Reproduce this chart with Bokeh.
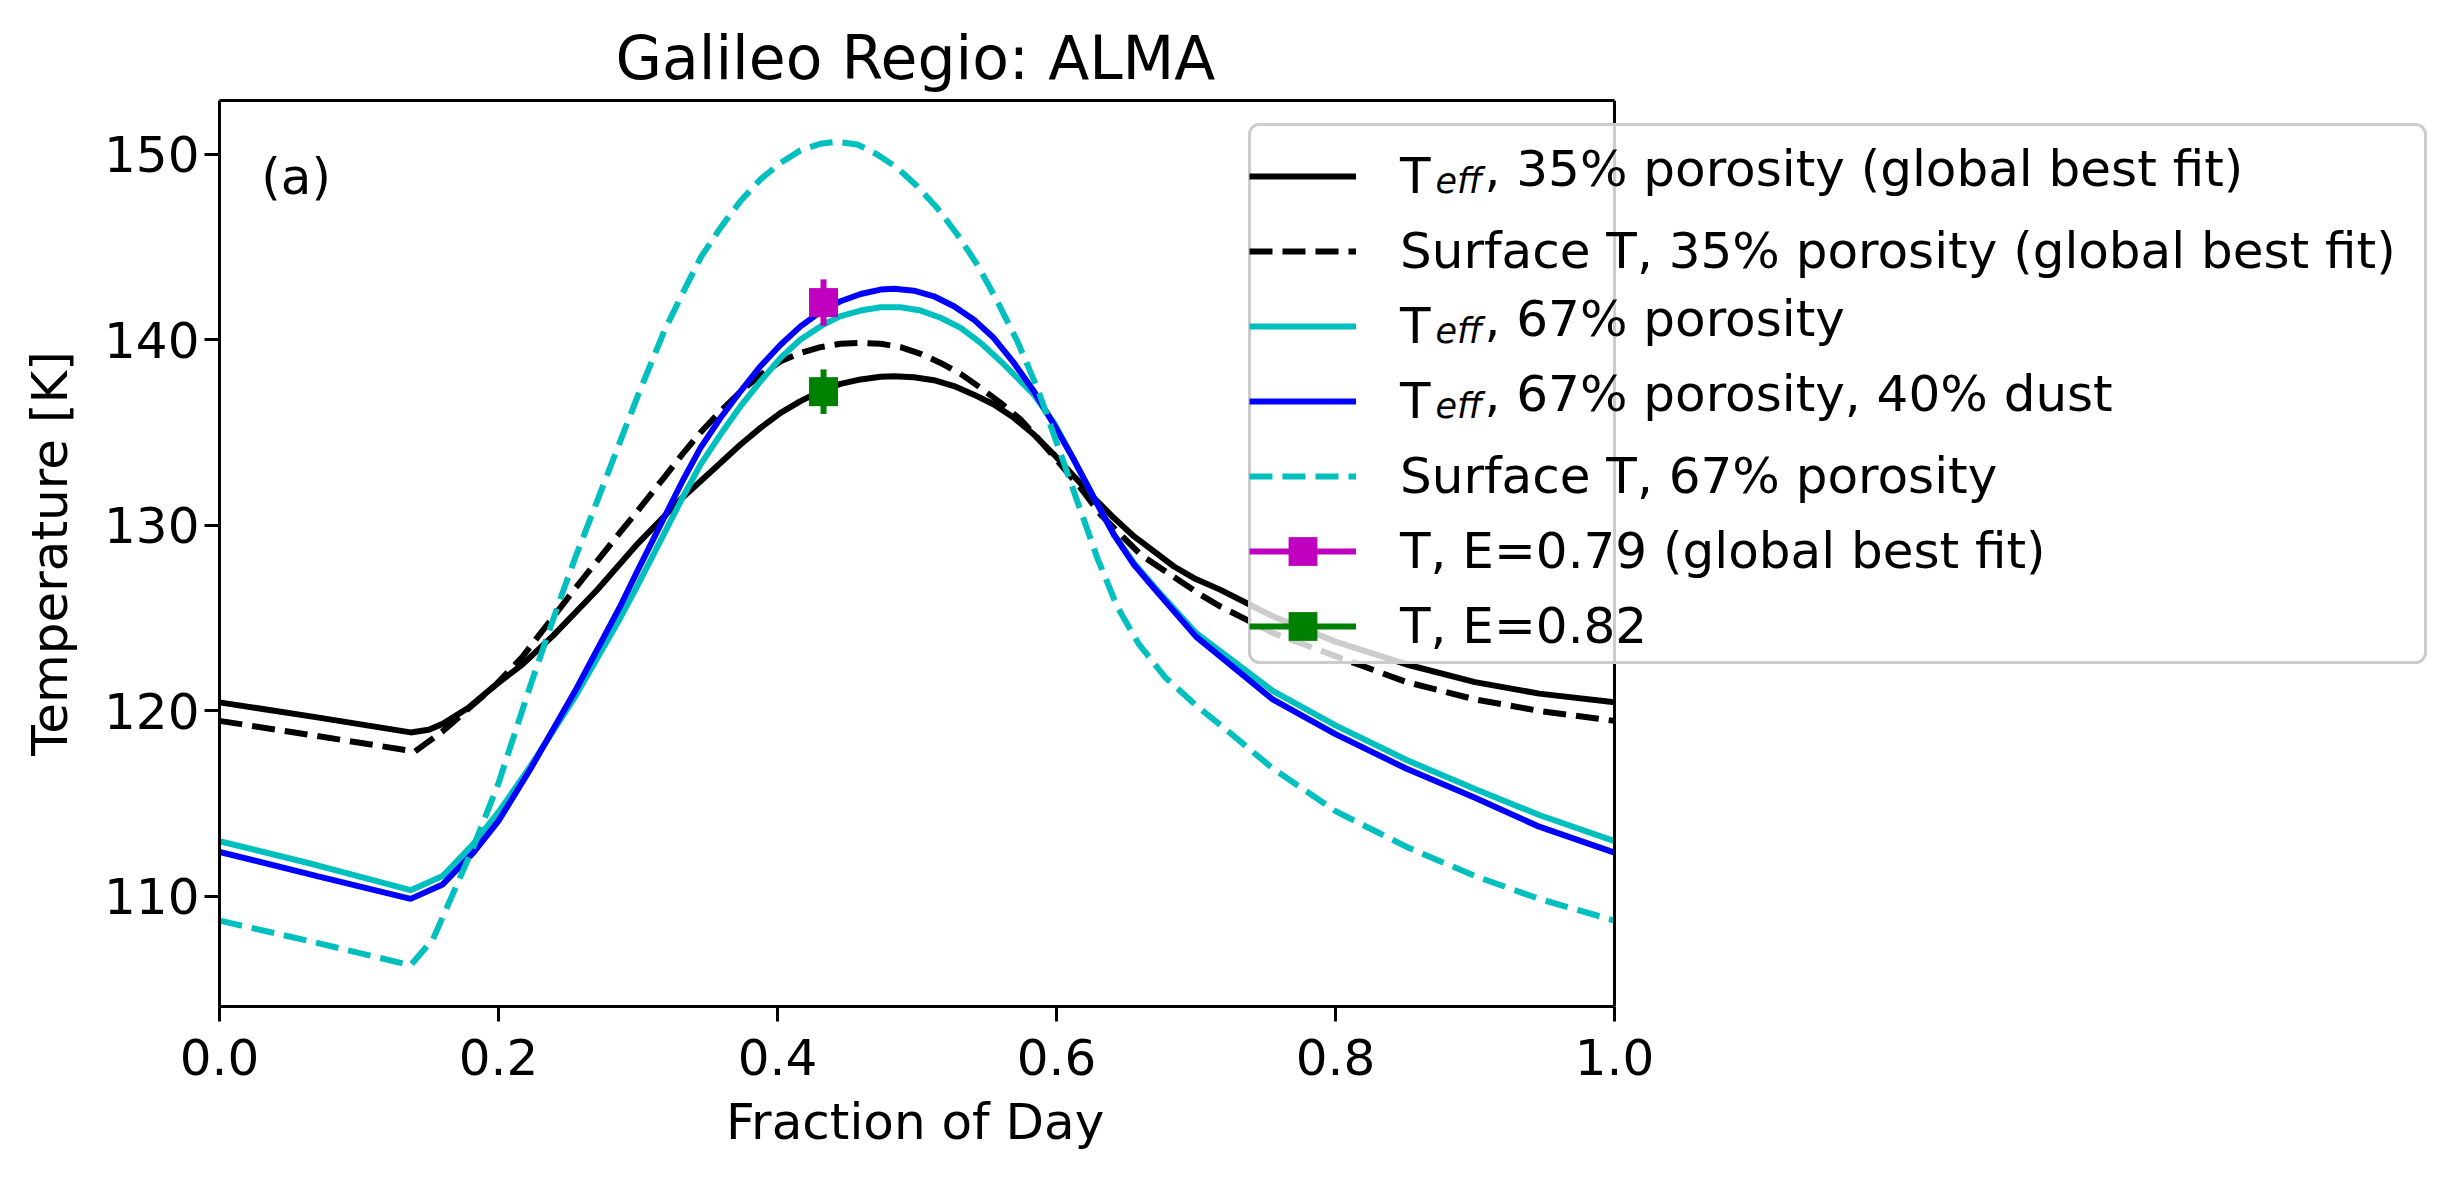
from bokeh.plotting import figure
from bokeh.models import (Range1d, FixedTicker, Legend, LegendItem, Label, ColumnDataSource,
                          PrintfTickFormatter, LinearAxis, Span, Title, BoxAnnotation)
from bokeh.embed import file_html
from bokeh.resources import INLINE

# ---------------- data ----------------
title_text = "Galileo Regio: ALMA"
x_label = "Fraction of Day"
y_label = "Temperature [K]"
panel_tag = "(a)"

x_ticks = [0.0, 0.2, 0.4, 0.6, 0.8, 1.0]
y_ticks = [110, 120, 130, 140, 150]
x_min, x_max = 0.0, 1.0

# T_eff, 35% porosity (global best fit)  -- black solid
x_teff35 = [0.0, 0.07, 0.137, 0.15, 0.16, 0.179, 0.198, 0.217, 0.239, 0.271, 0.3, 0.332,
            0.3448, 0.3591, 0.3735, 0.3878, 0.4022, 0.4165, 0.433, 0.4452, 0.4596, 0.4739, 0.4835,
            0.4978, 0.5121, 0.5265, 0.5408, 0.5551, 0.5695, 0.5838, 0.5982, 0.6125, 0.6269, 0.6412,
            0.6556, 0.6699, 0.6842, 0.6986, 0.7176, 0.755, 0.8, 0.851, 0.9, 0.946, 1.0]
t_teff35 = [120.46, 119.65, 118.84, 118.98, 119.3, 120.2, 121.4, 122.49, 124.04, 126.54, 129.03, 131.5,
            132.37, 133.36, 134.35, 135.25, 136.06, 136.69, 137.31, 137.62, 137.86, 138.0, 138.03,
            137.98, 137.82, 137.5, 137.04, 136.51, 135.79, 134.89, 133.81, 132.64, 131.47, 130.39,
            129.4, 128.59, 127.78, 127.15, 126.52, 125.1, 123.73, 122.5, 121.55, 120.93, 120.46]

# Surface T, 35% porosity (global best fit)  -- black dashed
x_surf35 = [0.0, 0.07, 0.14, 0.16, 0.179, 0.198, 0.217, 0.236, 0.255, 0.271, 0.287, 0.3, 0.319, 0.332,
            0.3448, 0.3591, 0.3735, 0.3878, 0.4022, 0.4165, 0.4308, 0.4452, 0.4596, 0.4739, 0.4882,
            0.5026, 0.5169, 0.5313, 0.5456, 0.5599, 0.5743, 0.5886, 0.603, 0.6173, 0.6317, 0.646,
            0.6604, 0.6747, 0.689, 0.7034, 0.7176, 0.755, 0.8, 0.851, 0.9, 0.946, 1.0]
t_surf35 = [119.46, 118.65, 117.81, 118.9, 120.15, 121.4, 122.9, 124.75, 126.6, 128.1, 129.6, 130.8,
            132.6, 133.85, 135.0, 136.15, 137.2, 138.1, 138.84, 139.29, 139.6, 139.78, 139.83,
            139.78, 139.6, 139.24, 138.75, 138.16, 137.4, 136.6, 135.7, 134.53, 133.27, 132.01,
            130.57, 129.49, 128.41, 127.69, 126.97, 126.25, 125.62, 124.2, 122.95, 121.55, 120.62,
            120.0, 119.46]

# T_eff, 67% porosity  -- cyan solid
x_teff67 = [0.0, 0.07, 0.137, 0.16, 0.182, 0.2, 0.223, 0.255, 0.287, 0.3, 0.332,
            0.3448, 0.3591, 0.3735, 0.3878, 0.4022, 0.4165, 0.433, 0.4452, 0.4596, 0.4739, 0.4882,
            0.5026, 0.5169, 0.5313, 0.5456, 0.5599, 0.5743, 0.5838, 0.5982, 0.6125, 0.6269, 0.6412,
            0.6556, 0.6699, 0.7, 0.755, 0.8, 0.851, 0.9, 0.946, 1.0]
t_teff67 = [112.98, 111.68, 110.34, 111.1, 112.83, 114.54, 117.03, 120.77, 124.97, 126.8, 131.5,
            133.27, 134.89, 136.42, 137.76, 139.02, 140.01, 140.82, 141.27, 141.57, 141.75, 141.75,
            141.57, 141.18, 140.64, 139.83, 138.84, 137.76, 137.04, 135.51, 133.53, 131.47, 129.49,
            127.96, 126.7, 124.2, 121.08, 119.22, 117.35, 115.79, 114.39, 112.98]

# T_eff, 67% porosity, 40% dust  -- blue solid
x_dust = [0.0, 0.07, 0.137, 0.16, 0.182, 0.2, 0.223, 0.255, 0.287, 0.3, 0.332,
          0.3448, 0.3591, 0.3735, 0.3878, 0.4022, 0.4165, 0.433, 0.4452, 0.4596, 0.4739, 0.4835,
          0.4978, 0.5121, 0.5265, 0.5408, 0.5551, 0.5695, 0.5838, 0.5982, 0.6125, 0.6269, 0.6412,
          0.6556, 0.6699, 0.7, 0.755, 0.8, 0.851, 0.9, 0.946, 1.0]
t_dust = [112.4, 111.1, 109.87, 110.65, 112.36, 114.07, 116.88, 121.08, 125.6, 127.6, 132.4,
          134.17, 135.78, 137.22, 138.57, 139.73, 140.72, 141.62, 142.07, 142.46, 142.7, 142.75,
          142.64, 142.34, 141.8, 141.08, 140.09, 138.75, 137.22, 135.42, 133.53, 131.47, 129.49,
          127.87, 126.61, 124.0, 120.62, 118.75, 116.88, 115.32, 113.76, 112.36]

# Surface T, 67% porosity  -- cyan dashed
x_surf67 = [0.0, 0.07, 0.137, 0.153, 0.182, 0.2, 0.223, 0.243, 0.255, 0.271, 0.287, 0.3, 0.319, 0.332,
            0.3448, 0.3591, 0.3735, 0.3878, 0.4022, 0.4165, 0.4308, 0.4428, 0.4572, 0.4715, 0.4858,
            0.5002, 0.5145, 0.5289, 0.5432, 0.5575, 0.5719, 0.5862, 0.6006, 0.6149, 0.6292, 0.6436,
            0.659, 0.678, 0.7, 0.723, 0.755, 0.8, 0.851, 0.9, 0.946, 1.0]
t_surf67 = [108.7, 107.5, 106.29, 107.69, 112.67, 116.1, 121.4, 125.76, 128.25, 131.36, 134.48, 137.0,
            140.5, 142.5, 144.41, 146.03, 147.47, 148.64, 149.53, 150.2, 150.56, 150.67, 150.52,
            149.98, 149.26, 148.27, 147.1, 145.67, 144.05, 142.08, 139.92, 137.41, 134.35, 131.3,
            128.25, 125.6, 123.6, 121.8, 120.3, 118.9, 116.9, 114.6, 112.67, 111.1, 109.87, 108.7]

# observed brightness temperatures
x_obs = [0.433]
t_e079 = [142.0]
err_e079 = [1.25]
t_e082 = [137.2]
err_e082 = [1.2]

labels = [
    "Teff, 35% porosity (global best fit)",
    "Surface T, 35% porosity (global best fit)",
    "Teff, 67% porosity",
    "Teff, 67% porosity, 40% dust",
    "Surface T, 67% porosity",
    "T, E=0.79 (global best fit)",
    "T, E=0.82",
]

# ---------------- styling ----------------
FONT = "DejaVu Sans"
BLACK = "#000000"
CYAN = "#00bfbf"
BLUE = "#0000ff"
MAGENTA = "#bf00bf"
GREEN = "#008000"
LW = 6
DASH = "23 10"

all_t = t_teff35 + t_surf35 + t_teff67 + t_dust + t_surf67
t_min, t_max = min(all_t), max(all_t)
pad = 0.05 * (t_max - t_min)

LEFT, TOP, BOTTOM = 219, 100, 156
TOTAL_W = 2440
FW_DATA, FH = 1395, 906          # pixel size of the axes box (x from 0 to 1)
FW = TOTAL_W - LEFT              # frame is wider so that the legend can overhang the axes box
x_end = x_min + (x_max - x_min) * FW / FW_DATA

p = figure(frame_width=FW, frame_height=FH,
           min_border_left=LEFT, min_border_right=0, min_border_top=TOP, min_border_bottom=BOTTOM,
           x_range=Range1d(x_min, x_end), y_range=Range1d(t_min - pad, t_max + pad),
           output_backend="svg", toolbar_location=None, title=title_text)

p.background_fill_color = "white"
p.border_fill_color = "white"
p.outline_line_color = None
p.xgrid.visible = False
p.ygrid.visible = False

p.title.text_font = FONT
p.title.text_font_size = "60px"
p.title.text_font_style = "normal"
p.title.text_color = BLACK
p.title.align = "left"
p.title.offset = 396
p.title.standoff = 16

for ax in (p.xaxis[0], p.yaxis[0]):
    ax.axis_line_width = 3
    ax.axis_line_color = BLACK
    ax.major_tick_line_width = 3
    ax.major_tick_line_color = BLACK
    ax.major_tick_out = 15
    ax.major_tick_in = 0
    ax.minor_tick_line_color = None
    ax.major_label_text_font = FONT
    ax.major_label_text_font_size = "50px"
    ax.major_label_text_color = BLACK
    ax.axis_label_text_font = FONT
    ax.axis_label_text_font_size = "50px"
    ax.axis_label_text_font_style = "normal"
    ax.axis_label_text_color = BLACK

p.xaxis.bounds = (x_min, x_max)
p.xaxis.ticker = FixedTicker(ticks=x_ticks)
p.xaxis.formatter = PrintfTickFormatter(format="%.1f")
p.yaxis.ticker = FixedTicker(ticks=y_ticks)
p.yaxis.axis_label = y_label
p.xaxis.major_label_standoff = 17
p.yaxis.major_label_standoff = 5
p.yaxis.axis_label_standoff = 22

# x-axis label centred under the axes box (x from 0 to 1)
XLAB_W = 382
p.add_layout(Title(text=x_label, align="left", offset=FW_DATA / 2 - XLAB_W / 2, standoff=27,
                   text_font=FONT, text_font_size="50px", text_font_style="normal",
                   text_color=BLACK), "below")

# top and right spines of the axes box
top_spine = LinearAxis(bounds=(x_min, x_max), ticker=FixedTicker(ticks=[]),
                       axis_line_width=3, axis_line_color=BLACK,
                       major_tick_line_color=None, minor_tick_line_color=None,
                       major_tick_out=0, major_tick_in=0, major_label_standoff=0,
                       axis_label_standoff=0, major_label_text_font_size="0px")
p.add_layout(top_spine, "above")
p.add_layout(Span(location=x_max, dimension="height", line_color=BLACK, line_width=3))

rA = p.line(x_teff35, t_teff35, line_color=BLACK, line_width=LW)
rB = p.line(x_surf35, t_surf35, line_color=BLACK, line_width=LW, line_dash=DASH)
rC = p.line(x_teff67, t_teff67, line_color=CYAN, line_width=LW)
rD = p.line(x_dust, t_dust, line_color=BLUE, line_width=LW)
rE = p.line(x_surf67, t_surf67, line_color=CYAN, line_width=LW, line_dash=DASH)

def obs_renderers(t, err, color):
    src = ColumnDataSource(dict(x=x_obs, t=t,
                                lo=[a - b for a, b in zip(t, err)],
                                hi=[a + b for a, b in zip(t, err)]))
    seg = p.segment(x0="x", y0="lo", x1="x", y1="hi", source=src, line_color=color, line_width=LW)
    sq = p.scatter(x="x", y="t", source=src, marker="square", size=29,
                   fill_color=color, line_color=color, line_width=0)
    return [seg, sq]

obs1 = obs_renderers(t_e079, err_e079, MAGENTA)
obs2 = obs_renderers(t_e082, err_e082, GREEN)

# legend frame (semi-transparent white box with light grey rounded border)
LEG_X, LEG_Y = 1030, 344
LEG_RIGHT = 2206
PADL, GW, GH, SPACING, STANDOFF = 8, 107, 72, 3, 44
n_items = len(labels)
leg_h = 2 * PADL + n_items * GH + (n_items - 1) * SPACING
leg_top = LEG_Y + leg_h
p.add_layout(BoxAnnotation(left=LEG_X, right=LEG_RIGHT, bottom=LEG_Y, top=leg_top,
                           left_units="screen", right_units="screen",
                           bottom_units="screen", top_units="screen",
                           fill_color="white", fill_alpha=0.8,
                           line_color="#cccccc", line_width=3, line_alpha=1.0,
                           border_radius=10, level="annotation"))

# legend: "T_eff" rows show "T" in the legend; subscript and the rest of the text as labels
leg_labels = ["T", labels[1], "T", "T", labels[4], labels[5], labels[6]]
renderer_groups = [[rA], [rB], [rC], [rD], [rE], obs1, obs2]
items = [LegendItem(label=lab, renderers=rs) for lab, rs in zip(leg_labels, renderer_groups)]
legend = Legend(items=items, location=(LEG_X, LEG_Y), orientation="vertical",
                label_text_font=FONT, label_text_font_size="50px", label_text_color=BLACK,
                label_standoff=STANDOFF, glyph_width=GW, glyph_height=GH, label_height=GH,
                spacing=SPACING, padding=PADL, margin=0,
                border_line_color=None, background_fill_alpha=0.0)
p.add_layout(legend)

text_x = LEG_X + PADL + GW + STANDOFF
rest = {0: ", 35% porosity (global best fit)", 2: ", 67% porosity", 3: ", 67% porosity, 40% dust"}
for i, tail in rest.items():
    cy = leg_top - PADL - GH / 2 - i * (GH + SPACING)
    p.add_layout(Label(x=text_x + 27, y=cy - 12, x_units="screen", y_units="screen", text="eff",
                       text_font=FONT, text_font_size="35px", text_font_style="italic",
                       text_color=BLACK, text_baseline="middle", text_align="left", level="overlay"))
    p.add_layout(Label(x=text_x + 76, y=cy, x_units="screen", y_units="screen", text=tail,
                       text_font=FONT, text_font_size="50px", text_color=BLACK,
                       text_baseline="middle", text_align="left", level="overlay"))

p.add_layout(Label(x=0.03 * FW_DATA, y=0.9 * FH + 14, x_units="screen", y_units="screen",
                   text=panel_tag, text_font=FONT, text_font_size="50px", text_color=BLACK,
                   text_baseline="alphabetic", text_align="left"))

open("out.html", "w").write(file_html(p, INLINE))
